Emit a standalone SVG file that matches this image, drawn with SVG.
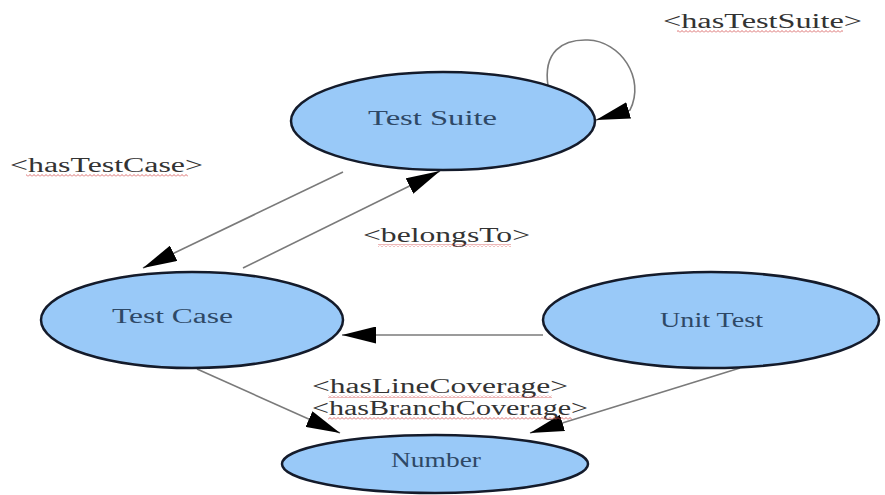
<svg xmlns="http://www.w3.org/2000/svg" width="885" height="495" viewBox="0 0 885 495">
<style>
.node ellipse{fill:#99c9f8;stroke:#141b2b;stroke-width:2.5}
.ntext{font-family:"Liberation Serif","Times New Roman",serif;font-size:20px;fill:#2e4866}
.lbl{font-family:"Liberation Serif","Times New Roman",serif;font-size:20px;fill:#333}
.edge{fill:none;stroke:#7a7a7a;stroke-width:1.6}
.sq{fill:url(#squiggle)}
</style>
<defs>
<marker id="arrow" markerUnits="userSpaceOnUse" markerWidth="34" markerHeight="17" viewBox="0 0 34 17" refX="34" refY="8.5" orient="auto">
<path d="M0,0 L34,8.5 L0,17 z" fill="#000"/>
</marker>
<pattern id="squiggle" width="4" height="3" patternUnits="userSpaceOnUse">
<path d="M0,2.5 L2,0.5 L4,2.5" fill="none" stroke="#d24a4a" stroke-width="0.8"/>
</pattern>
</defs>
<rect width="885" height="495" fill="#fff"/>
<g id="connectors">
<path class="edge" d="M548,86 C543,52 562,39 588,40 C620,41 646,78 630,110 L596,120" marker-end="url(#arrow)"/>
<path class="edge" d="M343,172 L143,268" marker-end="url(#arrow)"/>
<path class="edge" d="M243,268 L440,171" marker-end="url(#arrow)"/>
<path class="edge" d="M543,335 L342,335" marker-end="url(#arrow)"/>
<path class="edge" d="M197,369 L340,433" marker-end="url(#arrow)"/>
<path class="edge" d="M740,368 L530,433" marker-end="url(#arrow)"/>
</g>
<g id="node-test-suite" class="node">
<ellipse cx="443" cy="121" rx="152" ry="49"/>
<text class="ntext" x="368" y="125" textLength="129" lengthAdjust="spacingAndGlyphs">Test Suite</text>
</g>
<g id="node-test-case" class="node">
<ellipse cx="192" cy="320" rx="151" ry="48"/>
<text class="ntext" x="112" y="323" textLength="121" lengthAdjust="spacingAndGlyphs">Test Case</text>
</g>
<g id="node-unit-test" class="node">
<ellipse cx="711" cy="320" rx="168" ry="48"/>
<text class="ntext" x="660" y="327" textLength="103" lengthAdjust="spacingAndGlyphs">Unit Test</text>
</g>
<g id="node-number" class="node">
<ellipse cx="435" cy="464" rx="153" ry="29"/>
<text class="ntext" x="391" y="467" textLength="90" lengthAdjust="spacingAndGlyphs">Number</text>
</g>
<g id="labels">
<text class="lbl" x="663" y="28" textLength="199" lengthAdjust="spacingAndGlyphs">&lt;hasTestSuite&gt;</text>
<rect class="sq" x="677" y="30" width="166" height="3"/>
<text class="lbl" x="10" y="172" textLength="193" lengthAdjust="spacingAndGlyphs">&lt;hasTestCase&gt;</text>
<rect class="sq" x="26" y="174" width="162" height="3"/>
<text class="lbl" x="363" y="242" textLength="167" lengthAdjust="spacingAndGlyphs">&lt;belongsTo&gt;</text>
<rect class="sq" x="378" y="244" width="133" height="3"/>
<text class="lbl" x="312" y="393" textLength="256" lengthAdjust="spacingAndGlyphs">&lt;hasLineCoverage&gt;</text>
<rect class="sq" x="328" y="395" width="224" height="3"/>
<text class="lbl" x="312" y="415" textLength="276" lengthAdjust="spacingAndGlyphs">&lt;hasBranchCoverage&gt;</text>
<rect class="sq" x="328" y="417" width="244" height="3"/>
</g>
</svg>
